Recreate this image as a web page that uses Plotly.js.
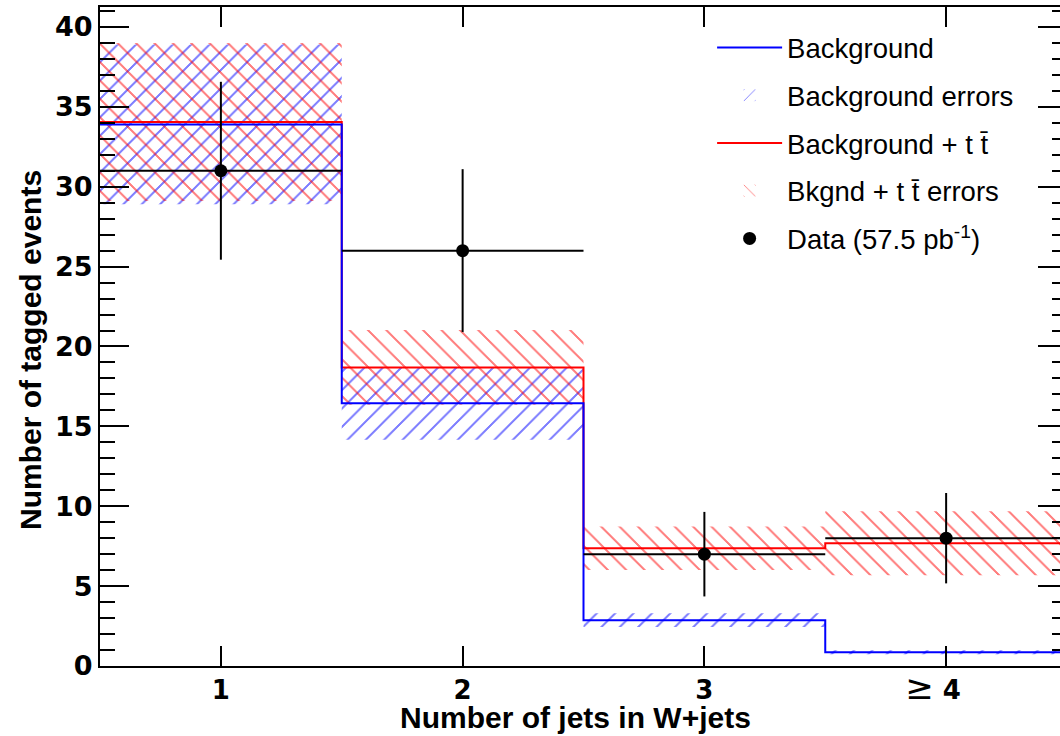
<!DOCTYPE html>
<html>
<head>
<meta charset="utf-8">
<script src="https://cdn.plot.ly/plotly-3.0.1.min.js"></script>
<style>
  html, body { margin: 0; padding: 0; background: #fff; overflow: hidden; width: 1060px; height: 736px; }
  #chart { width: 1075px; height: 736px; }
  #chart pattern path { shape-rendering: crispEdges; }
</style>
</head>
<body>
<div id="chart"></div>
<script>
// ---- data ----
const binCenters = [1, 2, 3, 4];
const binEdges = [0.5, 1.5, 2.5, 3.5, 4.5];
const tickLabels = ['1', '2', '3', '<span style="font-size:34px;font-weight:normal">\u2265</span> 4\u2003'];

const background = [33.9, 16.44, 2.87, 0.86];
const backgroundErr = [5.0, 2.28, 0.43, 0.13];

const bkgPlusTop = [34.05, 18.69, 7.37, 7.68];
const bkgPlusTopErr = [4.95, 2.34, 1.36, 2.0];

const dataCounts = [31, 26, 7, 8];
const dataErr = dataCounts.map(v => Math.sqrt(v));
const halfWidths = binCenters.map((c, i) => (binEdges[i + 1] - binEdges[i]) / 2);

const legendLabels = [
  'Background',
  'Background errors',
  'Background + t t\u0304',
  'Bkgnd + t t\u0304 errors',
  'Data (57.5 pb<sup>-1</sup>)'
];
const xTitle = 'Number of jets in W+jets';
const yTitle = 'Number of tagged events';

// ---- helpers ----
const stepY = arr => arr.concat([arr[arr.length - 1]]);
const bandBase = (v, e) => v.map((x, i) => x - e[i]);
const bandSize = e => e.map(x => 2 * x);
const binWidths = binEdges.slice(1).map((e, i) => e - binEdges[i]);

const BLUE = '#0000ff';
const RED = '#ff0000';

const traces = [
  {
    type: 'bar', name: legendLabels[1], legendrank: 2, legendgroup: 'g2',
    x: binCenters, base: bandBase(background, backgroundErr), y: bandSize(backgroundErr),
    width: binWidths,
    marker: { color: 'rgba(0,0,0,0)', line: { width: 0 },
      pattern: { shape: '/', fgcolor: BLUE, bgcolor: 'rgba(0,0,0,0)', size: 13, solidity: 0.12, fillmode: 'overlay' } },
    hoverinfo: 'skip'
  },
  {
    type: 'bar', name: legendLabels[3], legendrank: 4, legendgroup: 'g4',
    x: binCenters, base: bandBase(bkgPlusTop, bkgPlusTopErr), y: bandSize(bkgPlusTopErr),
    width: binWidths,
    marker: { color: 'rgba(0,0,0,0)', line: { width: 0 },
      pattern: { shape: '\\', fgcolor: RED, bgcolor: 'rgba(0,0,0,0)', size: 13, solidity: 0.12, fillmode: 'overlay' } },
    hoverinfo: 'skip'
  },
  {
    type: 'scatter', mode: 'lines', name: legendLabels[2], legendrank: 3, legendgroup: 'g3',
    x: binEdges, y: stepY(bkgPlusTop),
    line: { color: RED, width: 2, shape: 'hv' }, hoverinfo: 'skip'
  },
  {
    type: 'scatter', mode: 'lines', name: legendLabels[0], legendrank: 1, legendgroup: 'g1',
    x: binEdges, y: stepY(background),
    line: { color: BLUE, width: 2, shape: 'hv' }, hoverinfo: 'skip'
  },
  {
    type: 'scatter', mode: 'markers', name: legendLabels[4], legendrank: 5, legendgroup: 'g5',
    x: binCenters, y: dataCounts,
    marker: { color: '#000', size: 13, symbol: 'circle' },
    error_y: { type: 'data', array: dataErr, color: '#000', thickness: 2, width: 0 },
    error_x: { type: 'data', array: halfWidths, color: '#000', thickness: 2, width: 0 },
    hoverinfo: 'skip'
  }
];

const tickFont = { family: 'DejaVu Sans, Liberation Sans, sans-serif', size: 27, color: '#000', weight: 'bold' };
const xTickFont = { family: 'DejaVu Sans, Liberation Sans, sans-serif', size: 26, color: '#000', weight: 'bold' };
const titleFont = { family: 'Liberation Sans, Arial, sans-serif', size: 30, color: '#000', weight: 'bold' };

const layout = {
  width: 1075, height: 736,
  margin: { l: 100, r: 8, t: 7, b: 70 },
  paper_bgcolor: '#fff', plot_bgcolor: '#fff',
  barmode: 'overlay',
  showlegend: true,
  legend: {
    x: 0.633, y: 0.9757, xanchor: 'left', yanchor: 'top',
    bgcolor: 'rgba(0,0,0,0)', borderwidth: 0,
    font: { family: 'Liberation Sans, Arial, sans-serif', size: 27.5, color: '#000' },
    traceorder: 'grouped', tracegroupgap: 9, itemwidth: 65
  },
  xaxis: {
    range: [binEdges[0], binEdges[binEdges.length - 1]],
    tickmode: 'array', tickvals: binCenters, ticktext: tickLabels,
    ticks: 'inside', ticklen: 20, tickwidth: 2, tickcolor: '#000',
    showline: true, linewidth: 2, linecolor: '#000', mirror: 'allticks',
    showgrid: false, zeroline: false,
    tickfont: xTickFont
  },
  yaxis: {
    range: [0, 41.25],
    tick0: 0, dtick: 5,
    ticks: 'inside', ticklen: 29, tickwidth: 2, tickcolor: '#000',
    minor: { dtick: 1, ticks: 'inside', ticklen: 15, tickwidth: 2, tickcolor: '#000', showgrid: false },
    showline: true, linewidth: 2, linecolor: '#000', mirror: 'allticks',
    showgrid: false, zeroline: false,
    tickfont: tickFont
  },
  annotations: [
    { text: xTitle, xref: 'paper', yref: 'paper', x: 0.4922, y: -0.0785,
      xanchor: 'center', yanchor: 'middle', showarrow: false, font: titleFont },
    { text: yTitle, xref: 'paper', yref: 'paper', x: -0.0724, y: 0.4795, textangle: -90,
      xanchor: 'center', yanchor: 'middle', showarrow: false, font: titleFont }
  ]
};

Plotly.newPlot('chart', traces, layout, { displayModeBar: false, staticPlot: true });
</script>
</body>
</html>
